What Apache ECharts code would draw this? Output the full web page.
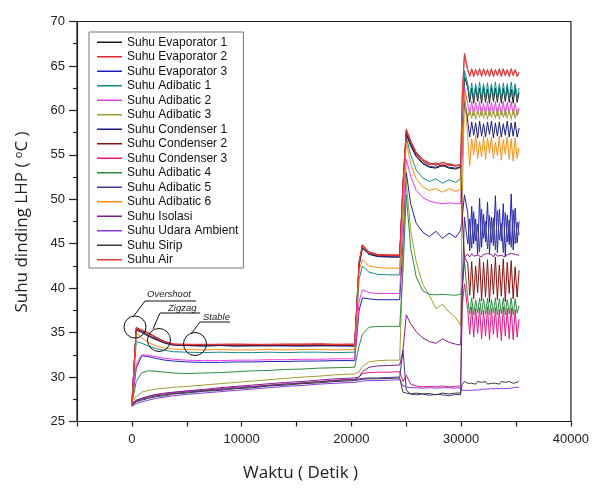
<!DOCTYPE html>
<html>
<head>
<meta charset="utf-8">
<script src="https://cdn.jsdelivr.net/npm/echarts@6/dist/echarts.min.js"></script>
<style>
  html, body { margin: 0; padding: 0; background: #fff; }
  #chart { width: 592px; height: 489px; }
</style>
</head>
<body>
<div id="chart"></div>
<script>
// waktu (detik) - shared time base for every series
var waktu = [
  0, 400, 900, 1500, 2200, 3000, 3800, 5000, 6500, 8000, 9500, 11000, 12500, 14000, 15500, 17000, 18500, 20300,
  20700, 21000, 21600, 22400, 23400, 24400,
  24700, 25000, 25400, 25900, 26500, 27100, 27700, 28300, 28900, 29500, 29950,
  30100, 30300,
  30600, 30780, 30960, 31140, 31320, 31500, 31680, 31860, 32040, 32220, 32400, 32580, 32760, 32940,
  33120, 33300, 33480, 33660, 33840, 34020, 34200, 34380, 34560, 34740, 34920, 35100, 35280
];

var namaSeri = [
  'Suhu Evaporator 1', 'Suhu Evaporator 2', 'Suhu Evaporator 3',
  'Suhu Adibatic 1', 'Suhu Adibatic 2', 'Suhu Adibatic 3',
  'Suhu Condenser 1', 'Suhu Condenser 2', 'Suhu Condenser 3',
  'Suhu Adibatic 4', 'Suhu Adibatic 5', 'Suhu Adibatic 6',
  'Suhu Isolasi', 'Suhu Udara Ambient', 'Suhu Sirip', 'Suhu Air'
];

var warna = [
  '#1a1a1a', '#e3262c', '#1f1fbf',
  '#138a8a', '#e83ce8', '#a0a032',
  '#1c1c80', '#8b0f0f', '#e8157f',
  '#2e8b3e', '#3b3b8f', '#ff8c10',
  '#7f1f8f', '#8a3ae6', '#3a3a3a', '#f03a3a'
];

var evaporator1 = [
  27.0, 35.3, 35.0, 34.6, 34.2, 33.8, 33.6, 33.55, 33.5, 33.55, 33.5, 33.55, 33.5, 33.55, 33.5, 33.5, 33.55, 33.5,
  42.5, 44.5, 43.8, 43.55, 43.5, 43.5,
  50.5, 57.3, 56.0, 54.8, 54.0, 53.6, 53.5, 53.8, 53.5, 53.4, 53.6,
  55.0, 63.8,
  62.6, 60.9, 62.5, 60.8, 62.6, 61.0, 62.5, 60.8, 62.6, 60.9, 62.4, 60.8, 62.6, 61.0,
  62.5, 60.9, 62.6, 60.8, 62.5, 61.0, 62.6, 60.9, 62.4, 60.8, 62.6, 60.9, 62.0
];
var evaporator2 = [
  26.8, 35.6, 35.3, 35.0, 34.5, 34.0, 33.7, 33.7, 33.65, 33.7, 33.7, 33.65, 33.7, 33.7, 33.7, 33.75, 33.7, 33.7,
  43.0, 44.9, 44.1, 43.8, 43.75, 43.75,
  52.0, 57.9, 56.6, 55.3, 54.5, 54.1, 53.8, 54.2, 53.9, 53.7, 54.0,
  62.0, 66.4,
  64.6, 63.8, 64.7, 63.8, 64.6, 63.9, 64.7, 63.8, 64.7, 63.9, 64.6, 63.8, 64.7, 63.8,
  64.6, 63.9, 64.7, 63.8, 64.7, 63.9, 64.6, 63.8, 64.7, 63.9, 64.6, 63.8, 64.3
];
var evaporator3 = [
  27.0, 31.0, 32.4, 32.3, 32.1, 31.9, 31.8, 31.7, 31.65, 31.65, 31.7, 31.7, 31.75, 31.75, 31.8, 31.8, 31.85, 31.85,
  37.5, 38.9, 38.8, 38.7, 38.7, 38.7,
  45.0, 53.0, 49.5, 47.3, 46.3, 45.8, 46.4, 45.6, 46.2, 45.7, 46.5,
  48.0, 50.5,
  48.5, 44.2, 49.2, 45.0, 47.8, 43.8, 50.1, 44.6, 48.3, 45.2, 49.7, 43.9, 48.0, 44.8,
  50.4, 44.0, 48.9, 45.3, 49.5, 43.6, 48.2, 44.9, 50.6, 44.3, 49.0, 45.1, 47.5
];
var adibatic1 = [
  27.0, 34.0, 33.8, 33.5, 33.2, 33.0, 32.85, 32.8, 32.75, 32.8, 32.75, 32.75, 32.8, 32.75, 32.8, 32.8, 32.75, 32.8,
  41.0, 42.5, 41.8, 41.55, 41.5, 41.5,
  50.0, 57.0, 55.0, 53.3, 52.4, 52.0, 52.3, 51.8, 52.2, 51.9, 52.3,
  58.0, 64.5,
  63.0, 61.4, 63.1, 61.3, 63.0, 61.5, 63.2, 61.3, 63.0, 61.4, 63.1, 61.3, 63.0, 61.5,
  63.2, 61.4, 63.0, 61.3, 63.1, 61.4, 63.0, 61.3, 63.2, 61.5, 63.0, 61.4, 62.5
];
var adibatic2 = [
  27.0, 31.5, 32.5, 32.45, 32.3, 32.1, 32.0, 31.9, 31.85, 31.85, 31.9, 31.9, 31.95, 31.95, 32.0, 32.0, 32.05, 32.05,
  38.5, 39.8, 39.5, 39.4, 39.4, 39.4,
  48.0, 54.5, 52.6, 51.0, 50.2, 49.8, 49.6, 49.5, 49.6, 49.5, 49.5,
  55.0, 62.5,
  60.8, 59.5, 61.0, 59.4, 60.9, 59.6, 61.0, 59.4, 60.8, 59.5, 61.0, 59.4, 60.9, 59.6,
  61.0, 59.4, 60.8, 59.5, 61.0, 59.4, 60.9, 59.6, 61.0, 59.5, 60.8, 59.4, 60.3
];
var adibatic3 = [
  27.0, 27.8, 28.3, 28.5, 28.65, 28.75, 28.85, 28.95, 29.1, 29.25, 29.4, 29.55, 29.7, 29.85, 30.0, 30.1, 30.25, 30.35,
  30.6, 31.2, 31.7, 31.85, 31.9, 31.9,
  44.0, 52.0, 46.5, 43.0, 40.4, 39.2, 37.7, 38.2, 37.3, 36.7, 35.8,
  50.0, 61.5,
  59.2, 60.1, 59.1, 60.2, 59.0, 60.0, 59.2, 60.2, 59.1, 60.1, 59.0, 60.2, 59.2, 60.0,
  59.1, 60.2, 59.0, 60.1, 59.2, 60.2, 59.1, 60.0, 59.0, 60.2, 59.1, 60.1, 59.6
];
var condenser1 = [
  27.0, 35.4, 35.1, 34.7, 34.3, 33.85, 33.6, 33.55, 33.5, 33.55, 33.5, 33.5, 33.55, 33.5, 33.5, 33.55, 33.5, 33.5,
  42.6, 44.6, 43.9, 43.6, 43.55, 43.5,
  51.0, 57.5, 56.2, 54.9, 54.1, 53.7, 53.6, 53.9, 53.6, 53.5, 53.7,
  58.0, 61.0,
  58.8, 57.0, 58.7, 57.2, 58.6, 56.9, 58.8, 57.1, 58.5, 57.0, 58.7, 57.3, 58.8, 56.9,
  58.6, 57.1, 58.7, 57.0, 58.5, 57.2, 58.8, 57.0, 58.6, 57.1, 58.7, 57.0, 58.0
];
var condenser2 = [
  27.0, 35.5, 35.2, 34.9, 34.4, 34.0, 33.7, 33.6, 33.6, 33.65, 33.6, 33.6, 33.65, 33.6, 33.6, 33.65, 33.6, 33.6,
  42.8, 44.8, 44.0, 43.7, 43.7, 43.65,
  51.5, 57.7, 56.4, 55.1, 54.3, 53.9, 54.1, 53.7, 54.0, 53.8, 53.9,
  48.0, 43.5,
  42.8, 39.2, 43.0, 38.8, 42.5, 39.5, 43.4, 38.6, 42.9, 39.0, 43.2, 38.4, 42.7, 39.3,
  43.5, 38.7, 42.6, 39.1, 43.3, 38.5, 42.9, 39.4, 43.1, 38.8, 42.4, 39.0, 42.0
];
var condenser3 = [
  26.9, 27.4, 27.6, 27.8, 28.0, 28.1, 28.25, 28.4, 28.5, 28.7, 28.85, 28.95, 29.1, 29.25, 29.35, 29.5, 29.65, 29.75,
  30.0, 30.4, 30.5, 30.55, 30.55, 30.6,
  29.5, 30.2, 29.2, 29.0, 28.9, 28.95, 28.9, 29.0, 28.9, 28.95, 29.0,
  38.0, 40.5,
  37.6, 34.8, 37.9, 34.5, 37.7, 34.9, 37.8, 34.3, 37.5, 34.6, 37.9, 34.2, 37.7, 34.8,
  37.8, 34.4, 37.6, 34.1, 37.9, 34.6, 37.7, 34.3, 37.8, 34.2, 37.6, 34.5, 36.5
];
var adibatic4 = [
  27.0, 29.5, 30.5, 30.7, 30.65, 30.55, 30.45, 30.4, 30.45, 30.5, 30.6, 30.7, 30.75, 30.85, 30.9, 31.0, 31.05, 31.1,
  33.5, 34.8, 35.6, 35.7, 35.7, 35.7,
  42.0, 50.5, 44.5, 41.3, 39.7, 39.3, 39.25, 39.3, 39.25, 39.2, 39.3,
  40.0, 43.0,
  38.8, 37.1, 38.9, 37.0, 38.7, 37.2, 38.9, 37.0, 38.8, 37.1, 38.9, 37.0, 38.7, 37.2,
  38.9, 37.0, 38.8, 37.1, 38.9, 37.0, 38.7, 37.1, 38.9, 37.0, 38.8, 37.2, 38.0
];
var adibatic5 = [
  26.9, 27.3, 27.5, 27.7, 27.9, 28.0, 28.15, 28.3, 28.45, 28.6, 28.75, 28.9, 29.05, 29.2, 29.3, 29.45, 29.6, 29.7,
  29.8, 29.85, 29.9, 29.9, 29.95, 30.0,
  33.0, 28.5, 28.1, 28.0, 28.1, 27.95, 28.05, 28.0, 27.9, 28.05, 28.0,
  40.0, 48.0,
  45.0, 47.8, 44.5, 48.6, 45.3, 47.2, 44.1, 48.9, 45.6, 47.5, 44.4, 48.2, 45.1, 47.9,
  44.3, 48.7, 45.4, 47.3, 44.0, 48.5, 45.2, 47.7, 44.6, 48.8, 45.0, 47.4, 46.0
];
var adibatic6 = [
  27.0, 35.0, 34.4, 33.9, 33.5, 33.25, 33.15, 33.1, 33.05, 33.1, 33.05, 33.05, 33.1, 33.05, 33.1, 33.1, 33.05, 33.1,
  42.0, 43.2, 42.5, 42.3, 42.25, 42.25,
  50.0, 56.5, 54.0, 52.3, 51.4, 51.0, 51.2, 50.8, 51.2, 50.9, 51.1,
  57.0, 62.0,
  57.0, 53.8, 56.8, 55.0, 57.2, 54.6, 56.5, 54.8, 57.1, 54.5, 56.9, 55.2, 57.0, 54.6,
  56.4, 54.9, 57.1, 54.4, 56.7, 55.1, 57.0, 54.5, 56.8, 54.3, 56.9, 54.6, 55.8
];
var isolasi = [
  26.9, 27.4, 27.6, 27.85, 28.05, 28.2, 28.3, 28.45, 28.6, 28.8, 28.95, 29.1, 29.25, 29.4, 29.5, 29.65, 29.8, 29.9,
  30.0, 30.6, 31.1, 31.25, 31.3, 31.35,
  33.0, 37.0, 36.0, 35.1, 34.4, 34.0, 33.8, 34.3, 33.9, 33.7, 33.6,
  40.0, 43.5,
  43.8, 43.5, 43.9, 43.6, 43.8, 43.7, 43.9, 43.5, 43.8, 43.6, 43.9, 43.7, 43.8, 43.5,
  43.9, 43.6, 43.8, 43.7, 43.9, 43.5, 43.8, 43.6, 43.9, 43.7, 43.8, 43.6, 43.7
];
var udaraAmbient = [
  26.7, 27.0, 27.2, 27.4, 27.6, 27.75, 27.9, 28.05, 28.2, 28.35, 28.5, 28.65, 28.8, 28.95, 29.05, 29.2, 29.3, 29.4,
  29.5, 29.55, 29.6, 29.6, 29.65, 29.7,
  29.0, 28.9, 28.8, 28.8, 28.75, 28.8, 28.75, 28.8, 28.8, 28.75, 28.8,
  28.5, 28.5,
  28.5, 28.55, 28.5, 28.6, 28.55, 28.6, 28.55, 28.6, 28.65, 28.6, 28.65, 28.6, 28.7, 28.65,
  28.7, 28.65, 28.7, 28.75, 28.7, 28.75, 28.7, 28.8, 28.75, 28.8, 28.85, 28.8, 28.85
];
var sirip = [
  26.8, 27.2, 27.4, 27.6, 27.8, 27.9, 28.1, 28.2, 28.4, 28.5, 28.7, 28.8, 29.0, 29.1, 29.25, 29.35, 29.5, 29.6,
  29.7, 29.75, 29.8, 29.8, 29.85, 29.9,
  28.3, 28.2, 28.1, 28.2, 28.1, 28.15, 28.0, 28.2, 28.1, 28.2, 28.2,
  29.2, 29.5,
  29.3, 29.5, 29.3, 29.4, 29.2, 29.5, 29.3, 29.4, 29.3, 29.5, 29.2, 29.4, 29.3, 29.5,
  29.3, 29.4, 29.2, 29.5, 29.3, 29.4, 29.3, 29.5, 29.4, 29.3, 29.5, 29.4, 29.6
];
var air = [
  26.8, 35.5, 35.25, 34.9, 34.45, 33.95, 33.7, 33.65, 33.7, 33.65, 33.7, 33.7, 33.65, 33.7, 33.7, 33.7, 33.65, 33.7,
  42.9, 44.8, 44.0, 43.75, 43.7, 43.7,
  51.8, 57.8, 56.5, 55.2, 54.4, 54.0, 53.9, 54.1, 53.8, 53.8, 53.9,
  61.5, 66.2,
  64.5, 63.9, 64.6, 63.9, 64.5, 64.0, 64.6, 63.9, 64.6, 64.0, 64.5, 63.9, 64.6, 63.9,
  64.5, 64.0, 64.6, 63.9, 64.6, 64.0, 64.5, 63.9, 64.6, 64.0, 64.5, 63.9, 64.2
];

var nilaiSeri = [
  evaporator1, evaporator2, evaporator3,
  adibatic1, adibatic2, adibatic3,
  condenser1, condenser2, condenser3,
  adibatic4, adibatic5, adibatic6,
  isolasi, udaraAmbient, sirip, air
];

var chart = echarts.init(document.getElementById('chart'));
var fontAngka = 'Liberation Sans, Arial, sans-serif';

var series = [];
for (var i = 0; i < nilaiSeri.length; i++) {
    var data = [];
    for (var j = 0; j < waktu.length; j++) {
        data.push([waktu[j], nilaiSeri[i][j]]);
    }
    series.push({
        name: namaSeri[i],
        type: 'line',
        data: data,
        showSymbol: false,
        symbol: 'none',
        color: warna[i],
        lineStyle: {width: 1, color: warna[i]},
        z: 2
    });
}

var option = {
    animation: false,
    backgroundColor: '#fff',
    grid: {
        left: 77, right: 21, top: 21.5, bottom: 67.5,
        show: true, borderColor: '#222', borderWidth: 1.2
    },
    legend: {
        orient: 'vertical',
        left: 89, top: 32,
        padding: [3, 5, 1, 8],
        itemGap: 0,
        itemWidth: 25, itemHeight: 1.5,
        icon: 'rect',
        borderColor: '#777', borderWidth: 1,
        backgroundColor: '#fff',
        textStyle: {fontFamily: fontAngka, fontSize: 12, color: '#111', lineHeight: 14.5},
        data: namaSeri
    },
    xAxis: {
        type: 'value',
        min: -5000, max: 40000, interval: 5000,
        splitLine: {show: false},
        axisLine: {onZero: false, lineStyle: {color: '#222', width: 1.2}},
        axisTick: {length: 5, lineStyle: {color: '#222', width: 1.2}},
        axisLabel: {
            margin: 11, fontFamily: fontAngka, fontSize: 13, color: '#222',
            formatter: function (v) { return (v >= 0 && v % 10000 === 0) ? String(v) : ''; }
        }
    },
    yAxis: {
        type: 'value',
        min: 25, max: 70, interval: 5,
        splitLine: {show: false},
        axisLine: {onZero: false, lineStyle: {color: '#222', width: 1.2}},
        axisTick: {length: 8, lineStyle: {color: '#222', width: 1.2}},
        minorTick: {show: true, splitNumber: 2, length: 4, lineStyle: {color: '#222', width: 1.2}},
        axisLabel: {margin: 12, fontFamily: fontAngka, fontSize: 13, color: '#222'}
    },
    graphic: [
        {type: 'text', left: 243, top: 465, style: {text: 'Waktu ( Detik )', font: '17px "Open Sans", sans-serif', fill: '#222'}},
        {
            type: 'text', x: 22, y: 222, rotation: Math.PI / 2,
            style: {
                text: 'Suhu dinding LHP ( {sup|o}C )',
                font: '17px "Open Sans", sans-serif', fill: '#222',
                align: 'center', verticalAlign: 'middle',
                rich: {sup: {fontSize: 11, verticalAlign: 'top', padding: [0, 0, 7, 0], fontFamily: 'Open Sans'}}
            }
        },
        {type: 'circle', shape: {cx: 135, cy: 327, r: 11}, style: {fill: 'none', stroke: '#111', lineWidth: 1}, z: 10},
        {type: 'circle', shape: {cx: 159, cy: 340, r: 11.5}, style: {fill: 'none', stroke: '#111', lineWidth: 1}, z: 10},
        {type: 'circle', shape: {cx: 195, cy: 344, r: 11.5}, style: {fill: 'none', stroke: '#111', lineWidth: 1}, z: 10},
        {type: 'polyline', shape: {points: [[133, 317], [145, 301], [196, 301]]}, style: {stroke: '#111', lineWidth: 1, fill: 'none'}, z: 10},
        {type: 'polyline', shape: {points: [[153, 329], [160, 313], [200, 313]]}, style: {stroke: '#111', lineWidth: 1, fill: 'none'}, z: 10},
        {type: 'polyline', shape: {points: [[191, 334], [200, 322], [230, 322]]}, style: {stroke: '#111', lineWidth: 1, fill: 'none'}, z: 10},
        {type: 'text', x: 147, y: 294, style: {text: 'Overshoot', font: 'italic 9.5px ' + fontAngka, fill: '#222', verticalAlign: 'middle'}, z: 10},
        {type: 'text', x: 168, y: 308, style: {text: 'Zigzag', font: 'italic 9.5px ' + fontAngka, fill: '#222', verticalAlign: 'middle'}, z: 10},
        {type: 'text', x: 203, y: 317, style: {text: 'Stable', font: 'italic 9.5px ' + fontAngka, fill: '#222', verticalAlign: 'middle'}, z: 10}
    ],
    series: series
};
chart.setOption(option);
</script>
</body>
</html>
